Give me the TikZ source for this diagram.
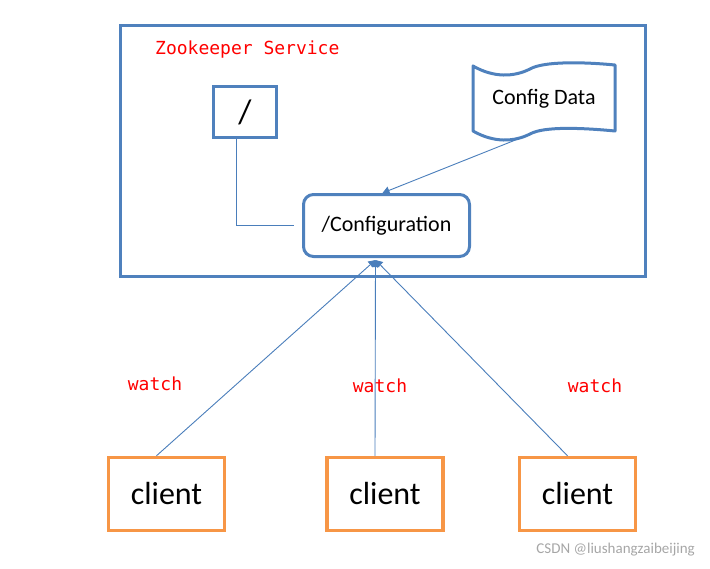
\documentclass[tikz,border=0pt]{standalone}
\usepackage{fontspec}
\setmainfont{Carlito}
\newfontfamily\monofont{DejaVu Sans Mono}
\usetikzlibrary{positioning,arrows.meta,calc}

\definecolor{boxblue}{RGB}{79,129,189}
\definecolor{boxorange}{RGB}{247,150,70}
\definecolor{lineblue}{RGB}{74,126,187}

\begin{document}
\begin{tikzpicture}[
  x=1pt,y=-1pt,
  font=\fontsize{22}{26}\selectfont,
  box/.style={rectangle,draw=boxblue,line width=3pt,inner sep=0pt},
  client/.style={rectangle,draw=boxorange,line width=3.5pt,inner sep=0pt,
                 minimum width=116pt,minimum height=73pt,font=\fontsize{32}{36}\selectfont},
  tag/.style={text=red,inner sep=0pt,font=\monofont\fontsize{18}{22}\selectfont},
  conn/.style={draw=lineblue,line width=0.9pt},
  arr/.style={conn,-{Triangle[length=7pt,width=8pt]}},
]
\useasboundingbox (0,0) rectangle (710,568);

% zookeeper service frame
\node[box,minimum width=525pt,minimum height=251pt] (zk) at (383,151) {};
\node[tag,anchor=west] (title) at (155,50) {Zookeeper Service};

% znodes inside the service
\node[box,minimum width=63pt,minimum height=51pt,font=\fontsize{34}{38}\selectfont] (root) at (245,112) {/};
\node[box,rounded corners=10pt,minimum width=166pt,minimum height=62pt] (conf) at (386.5,225.5) {/Configuration};
\node[minimum width=142pt,minimum height=66pt,inner sep=0pt] (cfg) at (544,99) {Config Data};
% wavy tape outline round the config data
\draw[boxblue,line width=3pt,line join=round,shift={(cfg.center)}]
  (-71,-33) .. controls (-50,-21) and (-30,-22) .. (-14,-30)
            .. controls (0,-38) and (40,-37) .. (71,-34)
  -- (71,32) .. controls (40,29) and (0,27) .. (-14,35)
             .. controls (-30,43) and (-50,44) .. (-71,32) -- cycle;

\draw[conn] ([xshift=-9pt]root.south) |- ([xshift=-8pt]conf.west);
\draw[arr] ([xshift=-14pt,yshift=-2pt]cfg.south) -- ([xshift=-4pt]conf.north);

% clients watching /Configuration
\node[client] (cl1) at (166.5,494) {client};
\node[client] (cl2) at (385,494) {client};
\node[client] (cl3) at (577.5,494) {client};

\coordinate (tip) at ([xshift=-11pt,yshift=-2pt]conf.south);
\draw[arr] ([xshift=-10pt]cl1.north) -- (tip);
\draw[arr] ([xshift=-10pt]cl2.north) -- (tip);
\draw[arr] ([xshift=-10pt]cl3.north) -- (tip);

\node[tag] (w1) at (155,384) {watch};
\node[tag] (w2) at (380,386) {watch};
\node[tag] (w3) at (595,386) {watch};

\node[anchor=east,text=gray!70,inner sep=0pt,font=\fontsize{15}{17}\selectfont] (mark) at (695,550) {CSDN @liushangzaibeijing};
\end{tikzpicture}
\end{document}
